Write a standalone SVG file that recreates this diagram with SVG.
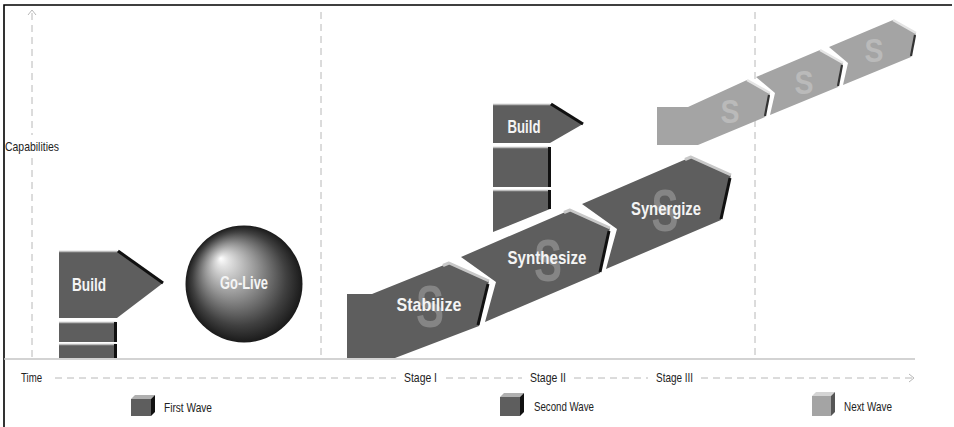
<svg xmlns="http://www.w3.org/2000/svg" width="954" height="427" viewBox="0 0 954 427">
  <defs>
    <radialGradient id="sphereShade" cx="0.5" cy="0.5" r="0.5" fx="0.3" fy="0.28">
      <stop offset="0" stop-color="#ffffff"/>
      <stop offset="0.1" stop-color="#e2e2e2"/>
      <stop offset="0.45" stop-color="#939393"/>
      <stop offset="0.8" stop-color="#404040"/>
      <stop offset="1" stop-color="#1a1a1a"/>
    </radialGradient>
  </defs>
  <style>
    .frame { stroke:#000; stroke-width:1.6; fill:none; }
    .dash { stroke:#b8b8b8; stroke-width:1; stroke-dasharray:7 5; fill:none; }
    .base { stroke:#c4c4c4; stroke-width:1.5; fill:none; }
    .tip { stroke:#b8b8b8; stroke-width:1; fill:none; }
    .seg { fill:#5e5e5e; }
    .segNext { fill:#a4a4a4; }
    .hiLight { stroke:#c8c8c8; stroke-width:3; fill:none; stroke-linejoin:round; }
    .hiNext { stroke:#e4e4e4; stroke-width:2.5; fill:none; }
    .edgeDark { stroke:#111; stroke-width:3; fill:none; }
    .edgeNext { stroke:#333; stroke-width:2.2; fill:none; }
    .lbl { font-family:'Liberation Sans','DejaVu Sans',sans-serif; font-size:13px; fill:#222; }
    .nodeTxt { font-family:'Liberation Sans','DejaVu Sans',sans-serif; font-weight:bold; font-size:19px; fill:#f4f4f4; text-anchor:middle; }
    .mark { font-family:'Liberation Sans','DejaVu Sans',sans-serif; font-weight:bold; font-size:60px; fill:#858585; text-anchor:middle; }
    .markNext { font-family:'Liberation Sans','DejaVu Sans',sans-serif; font-weight:bold; font-size:34px; fill:#bababa; text-anchor:middle; }
  </style>

  <!-- frame -->
  <path class="frame" d="M4,427 V5 H952"/>

  <!-- axes and stage dividers -->
  <g id="axes">
    <path class="dash" d="M32,13 V135 M32,158 V358"/>
    <polyline class="tip" points="28,15 32,10 36,15"/>
    <path class="dash" d="M321,12 V358"/>
    <path class="dash" d="M755,12 V358"/>
    <path class="base" d="M4,359 H915"/>
    <path class="dash" d="M55,378 H396 M446,378 H522 M574,378 H648 M701,378 H912"/>
    <polyline class="tip" points="909,374 914,378 909,382"/>
    <text class="lbl" x="5" y="151" textLength="54" lengthAdjust="spacingAndGlyphs">Capabilities</text>
    <text class="lbl" x="21" y="382" textLength="21" lengthAdjust="spacingAndGlyphs">Time</text>
    <text class="lbl" x="404" y="382" textLength="33" lengthAdjust="spacingAndGlyphs">Stage I</text>
    <text class="lbl" x="530" y="382" textLength="36" lengthAdjust="spacingAndGlyphs">Stage II</text>
    <text class="lbl" x="656" y="382" textLength="37" lengthAdjust="spacingAndGlyphs">Stage III</text>
  </g>

  <!-- first wave -->
  <g id="build1">
    <polygon class="seg" points="59,251 117,251 163,283 117,318 59,318"/>
    <line x1="59" y1="251.5" x2="117" y2="251.5" stroke="#bbb" stroke-width="1.5"/>
    <line class="edgeDark" x1="118" y1="251" x2="163" y2="283"/>
    <rect class="seg" x="59" y="322" width="57" height="20"/>
    <rect class="seg" x="59" y="344" width="57" height="14"/>
    <path d="M59,322.5 H116 M59,344.5 H116" stroke="#bbb" stroke-width="1.5"/>
    <path class="edgeDark" d="M115.5,322 V342 M115.5,344 V358" stroke-width="2"/>
    <text class="nodeTxt" x="89" y="291" font-size="18" textLength="34" lengthAdjust="spacingAndGlyphs">Build</text>
  </g>

  <g id="golive">
    <circle cx="244" cy="284" r="58.5" fill="url(#sphereShade)"/>
    <text class="nodeTxt" x="244" y="289" font-size="18" textLength="48" lengthAdjust="spacingAndGlyphs">Go-Live</text>
  </g>

  <!-- second wave -->
  <g id="build2">
    <polygon class="seg" points="493,104 550,104 583,124 550,143 493,143"/>
    <line x1="493" y1="104.5" x2="550" y2="104.5" stroke="#bbb" stroke-width="1.5"/>
    <line class="edgeDark" x1="551" y1="104" x2="583" y2="124"/>
    <rect class="seg" x="493" y="147" width="57" height="40"/>
    <polygon class="seg" points="493,190 550,190 550,209 493,232"/>
    <path d="M493,147.5 H550 M493,190.5 H550" stroke="#bbb" stroke-width="1.5"/>
    <path class="edgeDark" d="M549.5,147 V187 M549.5,190 V209" stroke-width="2"/>
    <text class="nodeTxt" x="524" y="133" font-size="18" textLength="33" lengthAdjust="spacingAndGlyphs">Build</text>
  </g>

  <g id="stabilize">
    <polygon class="seg" points="347,294 372,294 449,263 489,281 479,326 395,358 347,358"/>
    <polyline class="hiLight" points="443,265.5 449,263 489,281"/>
    <line class="edgeDark" x1="488" y1="284" x2="478" y2="325"/>
    <text class="mark" x="430" y="327" textLength="28" lengthAdjust="spacingAndGlyphs">S</text>
    <text class="nodeTxt" x="429" y="311" textLength="65" lengthAdjust="spacingAndGlyphs">Stabilize</text>
  </g>

  <g id="synthesize">
    <polygon class="seg" points="461,257 570,210 610,228 600,273 485,322 496,282"/>
    <polyline class="hiLight" points="564,212.5 570,210 610,228"/>
    <line class="edgeDark" x1="609" y1="231" x2="600" y2="272"/>
    <text class="mark" x="548" y="281" textLength="28" lengthAdjust="spacingAndGlyphs">S</text>
    <text class="nodeTxt" x="547" y="264" textLength="79" lengthAdjust="spacingAndGlyphs">Synthesize</text>
  </g>

  <g id="synergize">
    <polygon class="seg" points="582,204 691,157 731,175 721,220 606,269 617,229"/>
    <polyline class="hiLight" points="685,159.5 691,157 731,175"/>
    <line class="edgeDark" x1="730" y1="178" x2="721" y2="219"/>
    <text class="mark" x="665" y="231" textLength="27" lengthAdjust="spacingAndGlyphs">S</text>
    <text class="nodeTxt" x="666" y="215" textLength="70" lengthAdjust="spacingAndGlyphs">Synergize</text>
  </g>

  <!-- next wave -->
  <g id="next1">
    <polygon class="segNext" points="657,107 688,107 747,80 770,93 765,117 698,145 657,145"/>
    <line class="hiNext" x1="747" y1="80" x2="770" y2="93"/>
    <line class="edgeNext" x1="769" y1="95" x2="765" y2="116"/>
    <text class="markNext" x="730" y="123" textLength="19" lengthAdjust="spacingAndGlyphs">S</text>
  </g>
  <g id="next2">
    <polygon class="segNext" points="756,77 820,50 843,63 838,87 770,115 775,93"/>
    <line class="hiNext" x1="820" y1="50" x2="843" y2="63"/>
    <line class="edgeNext" x1="842" y1="65" x2="838" y2="86"/>
    <text class="markNext" x="804" y="94" textLength="19" lengthAdjust="spacingAndGlyphs">S</text>
  </g>
  <g id="next3">
    <polygon class="segNext" points="829,47 893,20 916,33 911,57 843,85 848,63"/>
    <line class="hiNext" x1="893" y1="20" x2="916" y2="33"/>
    <line class="edgeNext" x1="915" y1="35" x2="911" y2="56"/>
    <text class="markNext" x="874" y="62" textLength="19" lengthAdjust="spacingAndGlyphs">S</text>
  </g>

  <!-- legend -->
  <g id="legend">
    <g id="legendFirst">
      <polygon points="131,399 135,395 155,395 151,399" fill="#b0b0b0"/>
      <rect x="131" y="399" width="20" height="17" fill="#5e5e5e"/>
      <polygon points="151,399 155,395 155,412 151,416" fill="#111"/>
      <text class="lbl" x="164" y="412" textLength="48" lengthAdjust="spacingAndGlyphs">First Wave</text>
    </g>
    <g id="legendSecond">
      <polygon points="500,397 504,393 524,393 520,397" fill="#b0b0b0"/>
      <rect x="500" y="397" width="20" height="19" fill="#5e5e5e"/>
      <polygon points="520,397 524,393 524,412 520,416" fill="#111"/>
      <text class="lbl" x="534" y="411" textLength="60" lengthAdjust="spacingAndGlyphs">Second Wave</text>
    </g>
    <g id="legendNext">
      <polygon points="812,396 816,392 835,392 831,396" fill="#d4d4d4"/>
      <rect x="812" y="396" width="19" height="20" fill="#a4a4a4"/>
      <polygon points="831,396 835,392 835,412 831,416" fill="#555"/>
      <text class="lbl" x="844" y="411" textLength="48" lengthAdjust="spacingAndGlyphs">Next Wave</text>
    </g>
  </g>
</svg>
